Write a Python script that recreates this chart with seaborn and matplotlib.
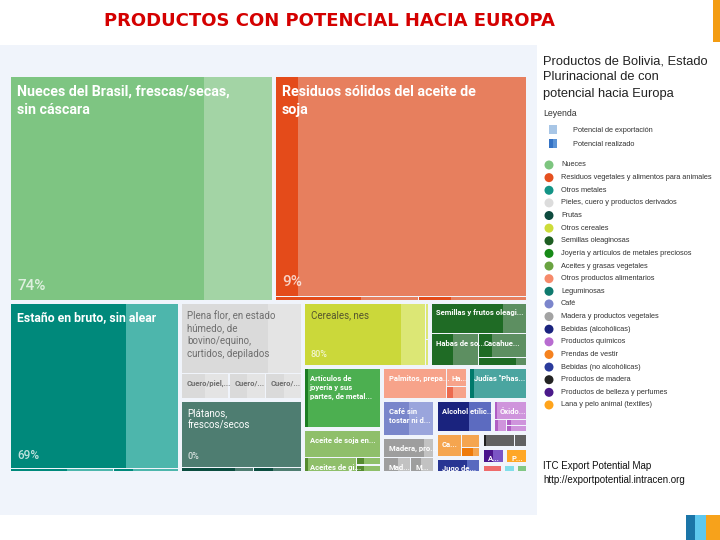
import matplotlib
matplotlib.use("Agg")
import matplotlib.pyplot as plt
from matplotlib.patches import Rectangle
import numpy as np
import pandas as pd
import seaborn as sns

# ---- datos ---------------------------------------------------------------
# categorias en el orden de la leyenda (= orden por potencial)
categorias = [
    "Nueces", "Residuos vegetales y alimentos para animales", "Otros metales",
    "Pieles, cuero y productos derivados", "Frutas", "Otros cereales",
    "Semillas oleaginosas", "Joyería y artículos de metales preciosos",
    "Aceites y grasas vegetales", "Otros productos alimentarios", "Leguminosas",
    "Café", "Madera y productos vegetales", "Bebidas (alcohólicas)",
    "Productos químicos", "Prendas de vestir", "Bebidas (no alcohólicas)",
    "Productos de madera", "Productos de belleza y perfumes",
    "Lana y pelo animal (textiles)", "", "", "",
]
color_leyenda = [
    "#7dc57f", "#e5501f", "#139486", "#dcdcdc", "#0e4a3e", "#cddc39", "#1e5e22",
    "#178a17", "#6aa341", "#f68a6a", "#0f7a6e", "#7c86cc", "#a3a3a3", "#1a237e",
    "#b86cd0", "#f5821f", "#2b3b9c", "#232323", "#4b1a8a", "#ffa41c",
    "#ef6b6b", "#80deea", "#81c784",
]
# potencial realizado (oscuro) / potencial de exportacion (claro)
color_oscuro = [
    "#7ec582", "#e44b1a", "#00897b", "#dadada", "#0b4d3f", "#cbd83a", "#1f6b25",
    "#1b7d24", "#558b2f", "#ec6a4f", "#00796b", "#7986cb", "#9e9e9e", "#1a237e",
    "#b05ec4", "#ee7a0a", "#283593", "#1f1f1f", "#4a148c", "#ff9f00",
    "#ef6b6b", "#80deea", "#81c784",
]
color_claro = [
    "#a3d4a5", "#e77f5e", "#4db6ac", "#e4e4e4", "#4e7d71", "#dce775", "#5d8f61",
    "#4caf50", "#8fbf6a", "#f7a38a", "#4aa5a0", "#9aa5dc", "#c2c2c2", "#5c6bc0",
    "#cf94dc", "#f5a54f", "#5869bf", "#616161", "#7b55c5", "#ffa726",
    "#ef6b6b", "#80deea", "#81c784",
]
color_texto = ["white"] * 23
color_texto[3] = "#6e6e6e"
color_texto[5] = "#55552e"

# productos: categoria, etiqueta, valor del potencial, fraccion realizada
prod_cat = [0, 1, 1, 1, 2, 2, 2, 3, 3, 3, 3, 4, 4, 4, 5, 5, 5, 6, 6, 6, 6, 7,
            8, 8, 8, 8, 9, 9, 9, 10, 11, 12, 12, 12, 13, 14, 14, 14, 14,
            15, 15, 15, 16, 17, 17, 18, 19, 20, 21, 22]
prod_label = [
    "Nueces del Brasil, frescas/secas,\nsin cáscara",
    "Residuos sólidos del aceite de\nsoja", "", "",
    "Estaño en bruto, sin alear", "", "",
    "Plena flor, en estado\nhúmedo, de\nbovino/equino,\ncurtidos, depilados",
    "Cuero/piel,...", "Cuero/...", "Cuero/...",
    "Plátanos,\nfrescos/secos", "", "",
    "Cereales, nes", "", "",
    "Semillas y frutos oleagi...", "Habas de so...", "Cacahue...", "",
    "Artículos de\njoyería y sus\npartes, de metal...",
    "Aceite de soja en...", "Aceites de gi...", "", "",
    "Palmitos, prepa...", "Ha...", "",
    "Judías \"Phas...",
    "Café sin\ntostar ni d...",
    "Madera, pro...", "Mad...", "M...",
    "Alcohol etílic...",
    "Óxido...", "", "", "",
    "Ca...", "", "",
    "Jugo de...",
    "", "",
    "A...", "P...", "", "", "",
]
prod_valor = [
    60000, 56600, 600, 450, 28750, 300, 190, 8900, 1255, 960, 939,
    8540, 300, 200, 8050, 120, 85, 3150, 1600, 1250, 400, 4940,
    2300, 800, 200, 176, 2150, 410, 268, 2000, 1990, 1080, 430, 390,
    1890, 690, 170, 150, 140, 650, 300, 190, 700, 500, 190, 380, 370,
    200, 115, 110,
]
prod_real = [
    0.74, 0.09, 0.6, 0.3, 0.69, 0.55, 0.3, 0.72, 0.5, 0.5, 0.5,
    0.0, 0.75, 0.4, 0.80, 0.3, 0.3, 0.76, 0.47, 0.28, 0.8, 0.04,
    0.0, 0.05, 0.3, 0.3, 0.0, 0.0, 0.3, 0.07, 0.5, 0.8, 0.55, 0.45,
    0.59, 0.06, 0.3, 0.2, 0.2, 0.0, 0.0, 0.65, 0.70, 0.09, 0.0, 0.5, 0.0,
    0.0, 0.0, 0.0,
]


def squarify(valores, x0, y0, x1, y1):
    """Treemap 'squarified' (filas a lo largo del lado corto)."""
    rects = [None] * len(valores)
    total = float(sum(valores))
    n, i0 = len(valores), 0
    while i0 < n:
        dx, dy = x1 - x0, y1 - y0
        suma = vmin = vmax = valores[i0]
        alpha = max(dy / dx, dx / dy) / total
        beta = suma * suma * alpha
        mejor = max(vmax / beta, beta / vmin)
        i1 = i0 + 1
        while i1 < n:
            v = valores[i1]
            b = (suma + v) ** 2 * alpha
            r = max(max(vmax, v) / b, b / min(vmin, v))
            if r > mejor:
                break
            suma += v
            mejor = r
            vmin, vmax = min(vmin, v), max(vmax, v)
            i1 += 1
        if dx < dy:
            h = dy * suma / total
            x = x0
            for i in range(i0, i1):
                w = dx * valores[i] / suma
                rects[i] = (x, y0, w, h)
                x += w
            y0 += h
        else:
            w = dx * suma / total
            y = y0
            for i in range(i0, i1):
                h = dy * valores[i] / suma
                rects[i] = (x0, y, w, h)
                y += h
            x0 += w
        total -= suma
        i0 = i1
    return rects


# ---- figura --------------------------------------------------------------
sns.set_theme(style="white")
plt.rcParams["font.family"] = ["Liberation Sans", "DejaVu Sans"]
fig = plt.figure(figsize=(7.2, 5.4), dpi=100)

bg = fig.add_axes([0, 0, 1, 1])
bg.set_xlim(0, 720)
bg.set_ylim(540, 0)
bg.axis("off")
bg.add_patch(Rectangle((0, 45), 537, 470, color="#f0f4fb", lw=0))
bg.add_patch(Rectangle((713, 0), 7, 42, color="#f39c12", lw=0))
bg.add_patch(Rectangle((686, 515), 9, 25, color="#1b75a8", lw=0))
bg.add_patch(Rectangle((695, 515), 11, 25, color="#5ec8ef", lw=0))
bg.add_patch(Rectangle((706, 515), 14, 25, color="#f7a21b", lw=0))
bg.text(329, 21, "PRODUCTOS CON POTENCIAL HACIA EUROPA", color="#d40000",
        fontsize=13, fontweight="heavy", ha="center", va="center",
        family=["DejaVu Sans"])

# panel de la leyenda
bg.text(543, 55, "Productos de Bolivia, Estado\nPlurinacional de con\npotencial hacia Europa",
        fontsize=9.3, color="#222222", va="top", ha="left", linespacing=1.5)
bg.text(543, 114, "Leyenda", fontsize=6.3, color="#333333", va="center")
bg.add_patch(Rectangle((549, 125), 8, 9, color="#a8c6e6", lw=0))
bg.add_patch(Rectangle((549, 139), 8, 9, color="#5b93d6", lw=0))
bg.add_patch(Rectangle((549, 139), 4, 9, color="#3573c5", lw=0))
bg.text(573, 130, "Potencial de exportación", fontsize=5.3, color="#333333", va="center")
bg.text(573, 144, "Potencial realizado", fontsize=5.3, color="#333333", va="center")

leyenda = pd.DataFrame({
    "x": 549.0,
    "y": 165 + 12.63 * np.arange(20),
    "categoria": categorias[:20],
})
sns.scatterplot(data=leyenda, x="x", y="y", hue="categoria",
                palette=dict(zip(categorias[:20], color_leyenda[:20])),
                s=42, edgecolor="none", legend=False, ax=bg)
for _, fila in leyenda.iterrows():
    bg.text(561, fila["y"], fila["categoria"], fontsize=5.3, color="#333333",
            va="center", ha="left")
bg.set_xlim(0, 720)
bg.set_ylim(540, 0)
bg.axis("off")

bg.text(543, 466, "ITC Export Potential Map", fontsize=7, color="#111111", va="center")
bg.text(543, 480, "http://exportpotential.intracen.org", fontsize=7, color="#111111",
        va="center")

# ---- treemap -------------------------------------------------------------
W_PX, H_PX = 519, 398
ESCALA_X = 0.525            # el mapa original era mas estrecho que la captura
W_V = W_PX * ESCALA_X
PX_X = W_V / W_PX

ax = fig.add_axes([9 / 720, (540 - 473) / 540, W_PX / 720, H_PX / 540])
ax.set_xlim(0, W_V)
ax.set_ylim(H_PX, 0)
ax.axis("off")

fuente = ["Roboto", "DejaVu Sans"]
cat_valor = [sum(v for c, v in zip(prod_cat, prod_valor) if c == k)
             for k in range(len(categorias))]
cat_rects = squarify(cat_valor, 0, 0, W_V, H_PX)

for ci, (x, y, w, h) in enumerate(cat_rects):
    x, y, w, h = x + 1.5 * PX_X, y + 1.5, w - 3 * PX_X, h - 3
    idx = [i for i, c in enumerate(prod_cat) if c == ci]
    sub = squarify([prod_valor[i] for i in idx], x, y, x + w, y + h)
    for i, (px, py, pw, ph) in zip(idx, sub):
        px, py, pw, ph = px + 0.6 * PX_X, py + 0.6, pw - 1.2 * PX_X, ph - 1.2
        ax.add_patch(Rectangle((px, py), pw, ph, color=color_claro[ci], lw=0))
        if prod_real[i] > 0:
            ax.add_patch(Rectangle((px, py), pw * prod_real[i], ph,
                                   color=color_oscuro[ci], lw=0))
        texto = prod_label[i]
        if not texto:
            continue
        wpx = pw / PX_X
        if wpx > 240:
            fs, peso, fp, off = 10.3, "bold", 11, (4.3, -5.5)
        elif wpx > 150:
            fs, peso, fp, off = 8.8, "bold", 8.5, (4.3, -5.5)
        elif wpx > 100:
            fs, peso, fp, off = 7.0, "normal", 6.5, (4.0, -4.5)
        else:
            fs, peso, fp, off = 5.5, "bold", 6, (3.2, -4.0)
        ax.annotate(texto, (px, py), xytext=off, textcoords="offset points",
                    fontsize=fs, fontweight=peso, color=color_texto[ci],
                    va="top", ha="left", linespacing=1.35, family=fuente)
        if ph > 60 and texto.count("\n") < 2:
            ax.annotate(f"{round(prod_real[i] * 100)}%", (px, py + ph),
                        xytext=(off[0], 4.5), textcoords="offset points",
                        fontsize=fp, fontweight="medium", color="white",
                        alpha=0.75, va="bottom", ha="left", family=fuente)

fig.savefig("out.png", dpi=100)
